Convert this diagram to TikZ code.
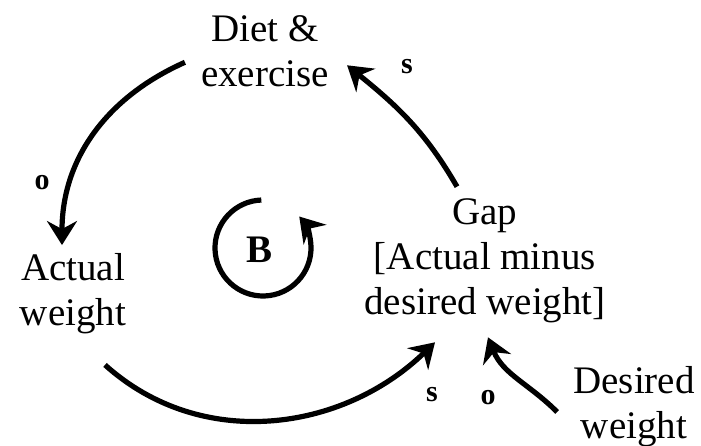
\documentclass[tikz,border=0pt]{standalone}
\usepackage{fontspec}
\setmainfont{Liberation Serif}
\usetikzlibrary{arrows.meta}
\begin{document}
\begin{tikzpicture}[x=1pt, y=1pt,
  var/.style = {font=\fontsize{39}{45}\selectfont, align=center, inner sep=0pt},
  sign/.style = {font=\bfseries\fontsize{30}{30}\selectfont, inner sep=0pt},
  link/.style = {line width=5.2pt, -{Stealth[length=24pt, width=30pt, inset=8pt]}}]
\fill[white] (0,0) rectangle (701,446);
\useasboundingbox (0,0) rectangle (701,446);
% variables
\node[var] (diet) at (265,394.7) {Diet \&\\exercise};
\node[var] (actual) at (73,152.5) {Actual\\weight};
\node[var] (gap) at (485,185) {Gap\\{[}Actual minus\\desired weight]};
\node[var] (desired) at (634,39) {Desired\\weight};
\node[font=\bfseries\fontsize{39}{39}\selectfont, inner sep=0pt] (loop) at (260,196) {B};
% links
\draw[link] ([shift={(-16,-11)}]diet.west) to[out=204, in=90] ([shift={(-11,8)}]actual.north);
\draw[link] ([shift={(32,-31)}]actual.south) to[out=-42, in=224] ([shift={(-50,-19)}]gap.south);
\draw[link] ([shift={(-28,12)}]gap.north) to[out=120, in=321] ([shift={(18,-14)}]diet.east);
\draw[link] ([shift={(-16,-5)}]desired.west) to[out=135, in=292] ([shift={(3,-14)}]gap.south);
\draw[link] ([shift={(3,2)}]loop.center) ++(92:48) arc[start angle=92, end angle=401, radius=48];
% signs
\node[sign] (o1) at (42,263) {o};
\node[sign] (s1) at (407,379) {s};
\node[sign] (s2) at (432,51) {s};
\node[sign] (o2) at (488,48) {o};
\end{tikzpicture}
\end{document}
